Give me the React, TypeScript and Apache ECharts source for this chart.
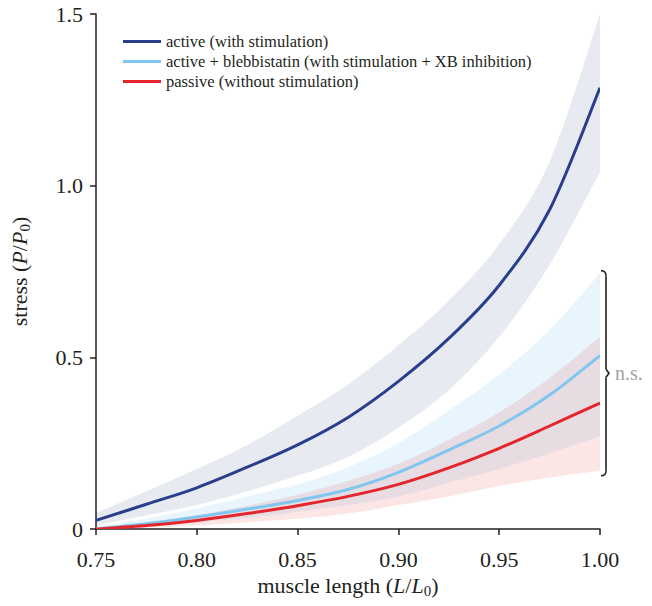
import React, { useEffect, useRef } from "react";
import * as echarts from "echarts";

const X = [0.75, 0.775, 0.8, 0.825, 0.85, 0.875, 0.9, 0.925, 0.95, 0.975, 1.0];
const ACTIVE = [0.025, 0.072, 0.12, 0.18, 0.245, 0.325, 0.43, 0.555, 0.71, 0.93, 1.285];
const ACTIVE_HI = [0.047, 0.11, 0.175, 0.245, 0.33, 0.42, 0.535, 0.665, 0.83, 1.07, 1.5];
const ACTIVE_LO = [0.01, 0.04, 0.07, 0.11, 0.155, 0.21, 0.295, 0.405, 0.56, 0.77, 1.04];
const BLEB = [0.0, 0.015, 0.035, 0.058, 0.083, 0.115, 0.165, 0.23, 0.3, 0.39, 0.505];
const BLEB_HI = [0.005, 0.03, 0.06, 0.095, 0.13, 0.18, 0.25, 0.345, 0.45, 0.58, 0.745];
const BLEB_LO = [0.0, 0.008, 0.02, 0.033, 0.05, 0.07, 0.095, 0.135, 0.175, 0.22, 0.27];
const PASSIVE = [0.0, 0.01, 0.025, 0.045, 0.068, 0.095, 0.13, 0.178, 0.235, 0.3, 0.367];
const PASSIVE_HI = [0.003, 0.018, 0.04, 0.068, 0.1, 0.14, 0.19, 0.26, 0.34, 0.44, 0.56];
const PASSIVE_LO = [0.0, 0.004, 0.01, 0.02, 0.03, 0.045, 0.07, 0.095, 0.125, 0.15, 0.17];
const BRACKET = [0.752, 0.155];
const NAMES = [
  "active (with stimulation)",
  "active + blebbistatin (with stimulation + XB inhibition)",
  "passive (without stimulation)",
];
const NS_LABEL = "n.s.";

const FONT = "Liberation Serif";
const INK = "#231f20";
const C_ACTIVE = "#2a3f8c";
const C_BLEB = "#80c6ef";
const C_PASS = "#e3262d";

type P = number[];

function smoothSeg(pts: P[]): string {
  let d = "";
  for (let i = 0; i < pts.length - 1; i++) {
    const p0 = pts[Math.max(0, i - 1)];
    const p1 = pts[i];
    const p2 = pts[i + 1];
    const p3 = pts[Math.min(pts.length - 1, i + 2)];
    const c1x = p1[0] + (p2[0] - p0[0]) / 6;
    const c1y = p1[1] + (p2[1] - p0[1]) / 6;
    const c2x = p2[0] - (p3[0] - p1[0]) / 6;
    const c2y = p2[1] - (p3[1] - p1[1]) / 6;
    d += ` C${c1x},${c1y} ${c2x},${c2y} ${p2[0]},${p2[1]}`;
  }
  return d;
}

function band(id: string, hi: number[], lo: number[], color: string, z: number) {
  return {
    id,
    type: "custom",
    data: X.map((x, i) => [x, lo[i], hi[i]]),
    clip: true,
    silent: true,
    z,
    renderItem: (params: any, api: any) => {
      if (params.dataIndex !== 0) return null;
      const up = X.map((x, i) => api.coord([x, hi[i]]) as P);
      const dn = X.map((x, i) => api.coord([x, lo[i]]) as P).reverse();
      const d =
        `M${up[0][0]},${up[0][1]}` +
        smoothSeg(up) +
        ` L${dn[0][0]},${dn[0][1]}` +
        smoothSeg(dn) +
        " Z";
      return {
        type: "path",
        shape: { pathData: d },
        style: { fill: color, stroke: "none" },
      };
    },
  };
}

function mainLine(name: string, ys: number[], color: string) {
  return {
    name,
    type: "custom",
    data: X.map((x, i) => [x, ys[i]]),
    itemStyle: { color },
    clip: true,
    silent: true,
    z: 5,
    renderItem: (params: any, api: any) => {
      if (params.dataIndex !== 0) return null;
      const pts = X.map((x, i) => api.coord([x, ys[i]]) as P);
      const d = `M${pts[0][0]},${pts[0][1]}` + smoothSeg(pts);
      return {
        type: "path",
        shape: { pathData: d },
        style: { fill: "none", stroke: color, lineWidth: 3 },
      };
    },
  };
}

export default function App() {
  const ref = useRef<HTMLDivElement>(null);
  useEffect(() => {
    const chart = echarts.init(ref.current!, null, { renderer: "svg" });
    const axisText = { fontFamily: FONT, fontSize: 22, color: INK };
    const nameRich = {
      a: { fontFamily: FONT, fontSize: 22, color: INK, lineHeight: 26 },
      i: { fontFamily: FONT, fontSize: 22, color: INK, fontStyle: "italic", lineHeight: 26 },
      s: { fontFamily: FONT, fontSize: 15, color: INK, lineHeight: 12, verticalAlign: "bottom" },
    };
    chart.setOption({
      animation: false,
      backgroundColor: "#ffffff",
      grid: { left: 83, right: 52, top: 14, bottom: 77, containLabel: false },
      legend: {
        data: NAMES,
        orient: "vertical",
        left: 118,
        top: 28,
        icon: "rect",
        itemWidth: 38,
        itemHeight: 3,
        itemGap: 3,
        selectedMode: false,
        textStyle: { fontFamily: FONT, fontSize: 16.5, color: INK, lineHeight: 16 },
      },
      xAxis: {
        type: "value",
        min: 0.75,
        max: 1.0,
        interval: 0.05,
        splitLine: { show: false },
        axisLine: { show: true, lineStyle: { color: INK, width: 1.5 } },
        axisTick: { show: true, length: 6, lineStyle: { color: INK, width: 1.5 } },
        axisLabel: { ...axisText, margin: 19, formatter: (v: number) => v.toFixed(2) },
        name: "{a|muscle length (}{i|L}{a|/}{i|L}{s|0}{a|)}",
        nameLocation: "middle",
        nameGap: 39,
        nameTextStyle: { rich: nameRich },
      },
      yAxis: {
        type: "value",
        min: 0,
        max: 1.5,
        interval: 0.5,
        splitLine: { show: false },
        axisLine: { show: true, lineStyle: { color: INK, width: 1.5 } },
        axisTick: { show: true, length: 6, lineStyle: { color: INK, width: 1.5 } },
        axisLabel: {
          ...axisText,
          margin: 13,
          formatter: (v: number) => (v === 0 ? "0" : v.toFixed(1)),
        },
        name: "{a|stress (}{i|P}{a|/}{i|P}{s|0}{a|)}",
        nameLocation: "middle",
        nameGap: 64,
        nameTextStyle: { rich: nameRich },
      },
      series: [
        band("act", ACTIVE_HI, ACTIVE_LO, "rgba(42,63,140,0.11)", 1),
        band("bleb", BLEB_HI, BLEB_LO, "rgba(128,198,239,0.18)", 2),
        band("pass", PASSIVE_HI, PASSIVE_LO, "rgba(227,38,45,0.12)", 3),
        mainLine(NAMES[0], ACTIVE, C_ACTIVE),
        mainLine(NAMES[1], BLEB, C_BLEB),
        mainLine(NAMES[2], PASSIVE, C_PASS),
      ],
    });

    const top = chart.convertToPixel({ gridIndex: 0 }, [1.0, BRACKET[0]]) as number[];
    const bot = chart.convertToPixel({ gridIndex: 0 }, [1.0, BRACKET[1]]) as number[];
    const x0 = top[0] + 1;
    const xv = x0 + 5;
    const y0 = top[1];
    const y1 = bot[1];
    const ym = (y0 + y1) / 2;
    const stroke = { stroke: INK, lineWidth: 1.6, fill: null };
    chart.setOption({
      graphic: [
        { type: "bezierCurve", shape: { x1: x0, y1: y0, x2: xv, y2: y0 + 5, cpx1: xv, cpy1: y0 }, style: stroke },
        { type: "line", shape: { x1: xv, y1: y0 + 5, x2: xv, y2: ym - 4 }, style: stroke },
        { type: "polyline", shape: { points: [[xv, ym - 4], [xv + 3, ym], [xv, ym + 4]] }, style: stroke },
        { type: "line", shape: { x1: xv, y1: ym + 4, x2: xv, y2: y1 - 5 }, style: stroke },
        { type: "bezierCurve", shape: { x1: xv, y1: y1 - 5, x2: x0, y2: y1, cpx1: xv, cpy1: y1 }, style: stroke },
        {
          type: "text",
          x: xv + 9,
          y: ym,
          style: {
            text: NS_LABEL,
            fontFamily: FONT,
            fontSize: 20,
            fill: "#a3a3a3",
            verticalAlign: "middle",
            align: "left",
          },
        },
      ],
    });
    return () => chart.dispose();
  }, []);
  return (
    <div
      ref={ref}
      style={{ position: "absolute", left: 0, top: 0, width: 652, height: 606 }}
    />
  );
}
